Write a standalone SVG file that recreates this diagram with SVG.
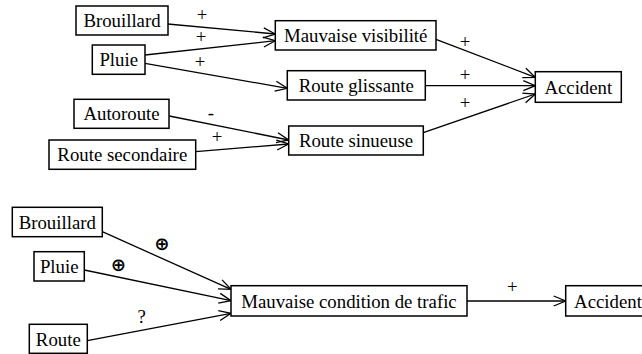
<svg xmlns="http://www.w3.org/2000/svg" width="642" height="354" viewBox="0 0 642 354">
<defs>
<marker id="arr" markerWidth="14" markerHeight="12" refX="12" refY="5" orient="auto" markerUnits="userSpaceOnUse" overflow="visible">
<path d="M0,0 L12,5 L0,10" fill="none" stroke="#000" stroke-width="1.3"/>
</marker>
</defs>
<rect width="642" height="354" fill="#fff"/>
<g id="edges" stroke="#000" stroke-width="1.3">
<line x1="167.7" y1="24" x2="275.3" y2="34" marker-end="url(#arr)"/>
<line x1="145" y1="55" x2="275.3" y2="40.7" marker-end="url(#arr)"/>
<line x1="145" y1="63.3" x2="287.3" y2="88.3" marker-end="url(#arr)"/>
<line x1="169.3" y1="116" x2="288.7" y2="140" marker-end="url(#arr)"/>
<line x1="195.7" y1="151.7" x2="288.7" y2="144" marker-end="url(#arr)"/>
<line x1="436" y1="39.3" x2="535.3" y2="77.3" marker-end="url(#arr)"/>
<line x1="425.3" y1="85.7" x2="535.3" y2="85.7" marker-end="url(#arr)"/>
<line x1="423.3" y1="132.7" x2="535.3" y2="94" marker-end="url(#arr)"/>
<line x1="102.3" y1="231.7" x2="231" y2="289.3" marker-end="url(#arr)"/>
<line x1="84.3" y1="270" x2="231" y2="300.7" marker-end="url(#arr)"/>
<line x1="87.3" y1="340.7" x2="231" y2="313.3" marker-end="url(#arr)"/>
<line x1="467" y1="301" x2="565.7" y2="301" marker-end="url(#arr)"/>
</g>
<g id="labels" font-family="Liberation Serif, Times New Roman, serif" font-size="18.8" fill="#000" text-anchor="middle">
<text x="202" y="21">+</text>
<text x="201" y="43">+</text>
<text x="200" y="68">+</text>
<text x="211" y="119">-</text>
<text x="217" y="143">+</text>
<text x="465" y="48">+</text>
<text x="465" y="81">+</text>
<text x="465" y="109">+</text>
<text x="161.7" y="250" font-family="DejaVu Sans, sans-serif" font-size="18" font-weight="bold">⊕</text>
<text x="118.3" y="270.5" font-family="DejaVu Sans, sans-serif" font-size="18" font-weight="bold">⊕</text>
<text x="141.7" y="322.5">?</text>
<text x="512.3" y="293">+</text>
</g>
<g id="nodes" font-family="Liberation Serif, Times New Roman, serif" font-size="18.8" fill="#000" text-anchor="middle">
<g id="n-brouillard"><rect x="76" y="6" width="92" height="29" fill="#fff" stroke="#000" stroke-width="1.5"/><text x="122" y="27">Brouillard</text></g>
<g id="n-pluie"><rect x="92.3" y="45" width="52.7" height="29.3" fill="#fff" stroke="#000" stroke-width="1.5"/><text x="118.7" y="66">Pluie</text></g>
<g id="n-autoroute"><rect x="74" y="99.3" width="95" height="29" fill="#fff" stroke="#000" stroke-width="1.5"/><text x="121.5" y="120.3">Autoroute</text></g>
<g id="n-routesec"><rect x="49" y="140" width="146.7" height="29.3" fill="#fff" stroke="#000" stroke-width="1.5"/><text x="122.3" y="161">Route secondaire</text></g>
<g id="n-mauvvis"><rect x="275.3" y="20.7" width="160.7" height="29.3" fill="#fff" stroke="#000" stroke-width="1.5"/><text x="355.7" y="41.7">Mauvaise visibilité</text></g>
<g id="n-routegl"><rect x="287.3" y="70.7" width="138" height="29.3" fill="#fff" stroke="#000" stroke-width="1.5"/><text x="356.3" y="91.7">Route glissante</text></g>
<g id="n-routesin"><rect x="288.7" y="126" width="134.6" height="29" fill="#fff" stroke="#000" stroke-width="1.5"/><text x="356" y="147">Route sinueuse</text></g>
<g id="n-accident"><rect x="535.3" y="71.7" width="86" height="30.6" fill="#fff" stroke="#000" stroke-width="1.5"/><text x="578.3" y="93.5">Accident</text></g>
<g id="n-brouillard2"><rect x="12.3" y="207.3" width="90" height="29.4" fill="#fff" stroke="#000" stroke-width="1.5"/><text x="57.3" y="228.5">Brouillard</text></g>
<g id="n-pluie2"><rect x="34" y="251.7" width="50.3" height="29.3" fill="#fff" stroke="#000" stroke-width="1.5"/><text x="59.2" y="272.8">Pluie</text></g>
<g id="n-route2"><rect x="29.3" y="324.3" width="58" height="29" fill="#fff" stroke="#000" stroke-width="1.5"/><text x="58.3" y="345.5">Route</text></g>
<g id="n-mauvcond"><rect x="231" y="285.7" width="236" height="30.3" fill="#fff" stroke="#000" stroke-width="1.5"/><text x="349" y="307.5">Mauvaise condition de trafic</text></g>
<g id="n-accident2"><rect x="565.7" y="285.7" width="90" height="30.3" fill="#fff" stroke="#000" stroke-width="1.5"/><text x="608" y="307.5">Accident</text></g>
</g>
</svg>
